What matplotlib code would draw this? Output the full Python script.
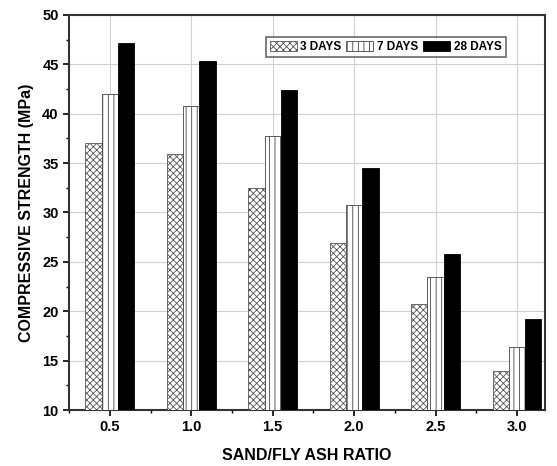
import matplotlib
matplotlib.use("Agg")
import matplotlib.pyplot as plt
import numpy as np
from matplotlib.ticker import MultipleLocator

plt.rcParams['font.family'] = ['Liberation Sans', 'DejaVu Sans']
plt.rcParams['font.weight'] = 'bold'
plt.rcParams['hatch.linewidth'] = 0.6

ratios = [0.5, 1.0, 1.5, 2.0, 2.5, 3.0]
days3 = [37.0, 35.9, 32.5, 26.9, 20.7, 14.0]
days7 = [42.0, 40.8, 37.7, 30.8, 23.5, 16.4]
days28 = [47.2, 45.3, 42.4, 34.5, 25.8, 19.2]
labels = ["3 DAYS", "7 DAYS", "28 DAYS"]

fig = plt.figure(figsize=(5.57, 4.66), dpi=100)
ax = fig.add_axes([0.124, 0.12, 0.854, 0.848])

x = np.array(ratios)
w = 0.1
ax.bar(x - w, days3, w, color="white", edgecolor="#555555",
       hatch="xxxxx", linewidth=0.6, label=labels[0], zorder=3)
ax.bar(x, days7, w, color="white", edgecolor="#444444",
       hatch="|||", linewidth=0.6, label=labels[1], zorder=3)
ax.bar(x + w, days28, w, color="black", edgecolor="black",
       linewidth=0.6, label=labels[2], zorder=3)

ax.set_xlim(0.25, 3.17)
ax.set_ylim(10, 50)
ax.set_xticks(ratios)
ax.set_xticklabels(["%.1f" % r for r in ratios])
ax.xaxis.set_minor_locator(MultipleLocator(0.25))
ax.yaxis.set_major_locator(MultipleLocator(5))
ax.yaxis.set_minor_locator(MultipleLocator(2.5))
ax.tick_params(which="major", length=4, width=1.2, labelsize=10.5)
ax.tick_params(which="minor", length=2.5, width=1)
ax.grid(True, which="major", color="#d0d0d0", linewidth=0.8, zorder=0)
for s in ax.spines.values():
    s.set_linewidth(1.5)
    s.set_color("#333333")

ax.set_xlabel("SAND/FLY ASH RATIO", fontsize=11.5, fontweight="bold", labelpad=10)
ax.set_ylabel("COMPRESSIVE STRENGTH (MPa)", fontsize=11.5, fontweight="bold", labelpad=6)

leg = ax.legend(loc="upper right", ncol=3, fontsize=8.5, frameon=True,
                fancybox=False, edgecolor="#444444", handlelength=2.3,
                handleheight=1.0, handletextpad=0.3, columnspacing=0.4,
                borderpad=0.35, bbox_to_anchor=(0.93, 0.96))
leg.get_frame().set_linewidth(1.2)

fig.savefig("out.png", dpi=100)
